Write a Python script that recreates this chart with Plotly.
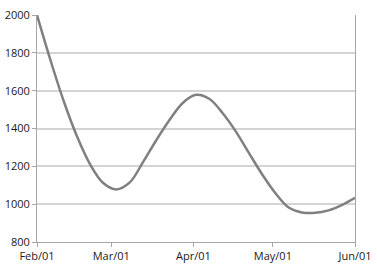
import plotly.graph_objects as go

dates = ["2021-02-01", "2021-02-06", "2021-02-11", "2021-02-16", "2021-02-21",
         "2021-02-26", "2021-03-03", "2021-03-08", "2021-03-13", "2021-03-18",
         "2021-03-23", "2021-03-28", "2021-04-02", "2021-04-07", "2021-04-12",
         "2021-04-17", "2021-04-22", "2021-04-27", "2021-05-02", "2021-05-07",
         "2021-05-12", "2021-05-17", "2021-05-22", "2021-05-27", "2021-06-01"]
values = [2000, 1765, 1548, 1362, 1212,
          1112, 1078, 1115, 1222, 1338,
          1445, 1535, 1578, 1557, 1482,
          1385, 1270, 1157, 1058, 982,
          956, 954, 967, 995, 1033]

tick_vals = ["2021-02-01", "2021-03-01", "2021-04-01", "2021-05-01", "2021-06-01"]
tick_text = ["Feb/01", "Mar/01", "Apr/01", "May/01", "Jun/01"]

fig = go.Figure()
fig.add_trace(go.Scatter(
    x=dates, y=values, mode="lines",
    line=dict(color="#808080", width=2.5, shape="spline", smoothing=1.0),
    hoverinfo="skip",
))

fig.update_layout(
    width=377, height=273,
    margin=dict(l=37, r=22, t=15, b=31),
    paper_bgcolor="white", plot_bgcolor="white",
    showlegend=False,
    font=dict(family="Segoe UI, Open Sans, sans-serif", size=11, color="#1a1a1a"),
)
fig.update_xaxes(
    type="date", automargin=False,
    range=["2021-02-01", "2021-06-01"],
    tickvals=tick_vals, ticktext=tick_text,
    showgrid=False, zeroline=False,
    showline=True, linecolor="#a6a6a6", linewidth=1,
    ticks="outside", ticklen=4, tickcolor="#a6a6a6",
)
fig.update_yaxes(
    range=[800, 2000], dtick=200, automargin=False,
    showgrid=True, gridcolor="#d4d4d4", gridwidth=1.5,
    zeroline=False,
    showline=True, linecolor="#a6a6a6", linewidth=1, mirror=True,
    ticks="outside", ticklen=4, tickcolor="#a6a6a6",
)

fig.write_html("out.html")
